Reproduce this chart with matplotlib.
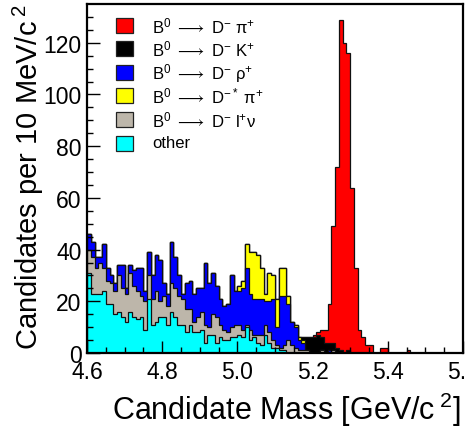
import numpy as np
import matplotlib
matplotlib.use("Agg")
import matplotlib.pyplot as plt
from matplotlib.patches import Rectangle

plt.rcParams['font.family'] = ['Liberation Sans', 'DejaVu Sans']
plt.rcParams['mathtext.fontset'] = 'custom'
plt.rcParams['mathtext.rm'] = 'Liberation Sans'
plt.rcParams['mathtext.it'] = 'Liberation Sans:italic'
plt.rcParams['mathtext.sf'] = 'Liberation Sans'

# Binning: 10 MeV bins between 4.6 and 5.6 GeV
mass_lo, mass_hi, n_bins = 4.6, 5.6, 100
edges = np.linspace(mass_lo, mass_hi, n_bins + 1)

# Candidates per bin for each contribution (stacked bottom -> top)
other = [31, 23, 23, 23, 24, 19, 19, 15, 16, 14,
         12, 16, 14, 13, 14, 9, 21, 11, 12, 14,
         14, 11, 16, 14, 11, 11, 8, 11, 8, 8,
         9, 4, 7, 7, 4, 6, 5, 5, 6, 6,
         7, 6, 10, 5, 6, 4, 3, 7, 4, 2,
         2, 1, 1, 0, 0, 0, 0, 0, 0, 0] + [0] * 40

d_lnu = [9, 14, 10, 12, 9, 9, 8, 9, 14, 11,
         11, 15, 12, 11, 8, 11, 9, 10, 12, 6,
         8, 7, 11, 11, 11, 10, 9, 6, 4, 6,
         7, 7, 3, 8, 10, 5, 4, 3, 4, 5,
         4, 3, 1, 4, 1, 3, 4, 4, 4, 3,
         1, 1, 2, 5, 3, 2, 1, 1, 1, 0,
         0, 0, 1, 0, 0, 1, 0, 0, 0, 0] + [0] * 30

d_rho = [6, 6, 4, 2, 9, 5, 3, 3, 4, 9,
         2, 3, 6, 9, 11, 4, 9, 9, 14, 16,
         5, 5, 16, 12, 8, 2, 10, 11, 11, 11,
         9, 24, 17, 16, 12, 10, 9, 11, 20, 13,
         13, 16, 22, 14, 14, 14, 14, 9, 12, 16,
         7, 20, 19, 14, 9, 8, 4, 3, 0, 0,
         0, 0, 0, 0, 1, 0, 0, 0, 0, 0] + [0] * 30

dstar_pi = [0] * 40 + [2, 3, 9, 16, 18, 17, 12, 3, 11, 9,
                       11, 11, 11, 3, 0, 1, 1, 1, 0, 0] + [0] * 40

d_k = [0] * 50 + [0, 0, 0, 0, 0, 0, 0, 1, 5, 6,
                  6, 7, 5, 4, 3, 3, 2, 1, 0, 1] + [0] * 30

d_pi = [0] * 60 + [1, 1, 3, 5, 15, 45, 70, 128, 120, 115,
                   64, 33, 9, 6, 3, 3, 0, 0, 2, 2,
                   0, 0, 0, 0, 0, 1, 0, 0, 0, 0] + [0] * 10

layers = [other, d_lnu, d_rho, dstar_pi, d_k, d_pi]
colors = ['#00ffff', '#bdb6aa', '#0000ff', '#ffff00', '#000000', '#ff0000']
arrow = r'$\longrightarrow$'
labels = ['B$^0$ ' + arrow + ' D$^{-}$ π$^{+}$',
          'B$^0$ ' + arrow + ' D$^{-}$ K$^{+}$',
          'B$^0$ ' + arrow + ' D$^{-}$ ρ$^{+}$',
          'B$^0$ ' + arrow + ' D$^{-*}$ π$^{+}$',
          'B$^0$ ' + arrow + ' D$^{-}$ l$^{+}$ν',
          'other']
legend_colors = ['#ff0000', '#000000', '#0000ff', '#ffff00', '#bdb6aa', '#00ffff']

W, H = 465, 427
fig = plt.figure(figsize=(W / 100, H / 100), dpi=100)
ax = fig.add_axes([87 / W, (H - 354) / H, (463 - 87) / W, (354 - 5) / H])

cum = np.cumsum(np.array(layers, dtype=float), axis=0)
for k in range(len(layers) - 1, -1, -1):
    ax.stairs(cum[k], edges, baseline=0, fill=True,
              facecolor=colors[k], edgecolor='#111111', linewidth=0.9)

ax.set_xlim(mass_lo, mass_hi)
ax.set_ylim(0, 135)
ax.set_xticks(np.arange(4.6, 5.61, 0.2))
ax.set_xticks(np.arange(4.6, 5.61, 0.05), minor=True)
ax.set_yticks(np.arange(0, 121, 20))
ax.set_yticks(np.arange(0, 131, 5), minor=True)
ax.xaxis.set_major_formatter(matplotlib.ticker.FormatStrFormatter('%.1f'))
ax.tick_params(which='both', direction='in', top=False, right=False,
               labelsize=16.5, width=1)
ax.tick_params(which='major', length=9)
ax.tick_params(which='minor', length=4.5)
ax.tick_params(axis='x', pad=5)
ax.tick_params(axis='y', pad=4)
for s in ax.spines.values():
    s.set_linewidth(1.6)

# legend drawn as colored boxes plus labels
row0, dy = 26, 23.6
for i, (lab, c) in enumerate(zip(labels, legend_colors)):
    yc = row0 + i * dy
    fig.patches.append(Rectangle((116 / W, (H - yc - 7.5) / H), 17 / W, 15 / H,
                                 transform=fig.transFigure, facecolor=c,
                                 edgecolor='#222222', linewidth=0.9))
    fig.text(152 / W, (H - yc) / H, lab, fontsize=12, va='center', ha='left')

fig.text(460 / W, (H - 410) / H, r'Candidate Mass [GeV/c$^{\;2}$]',
         fontsize=22, ha='right', va='center')
fig.text(28 / W, (H - 4) / H, r'Candidates per 10 MeV/c$^{\;2}$',
         fontsize=21, rotation=90, ha='center', va='top')

fig.savefig('out.png', dpi=100)
